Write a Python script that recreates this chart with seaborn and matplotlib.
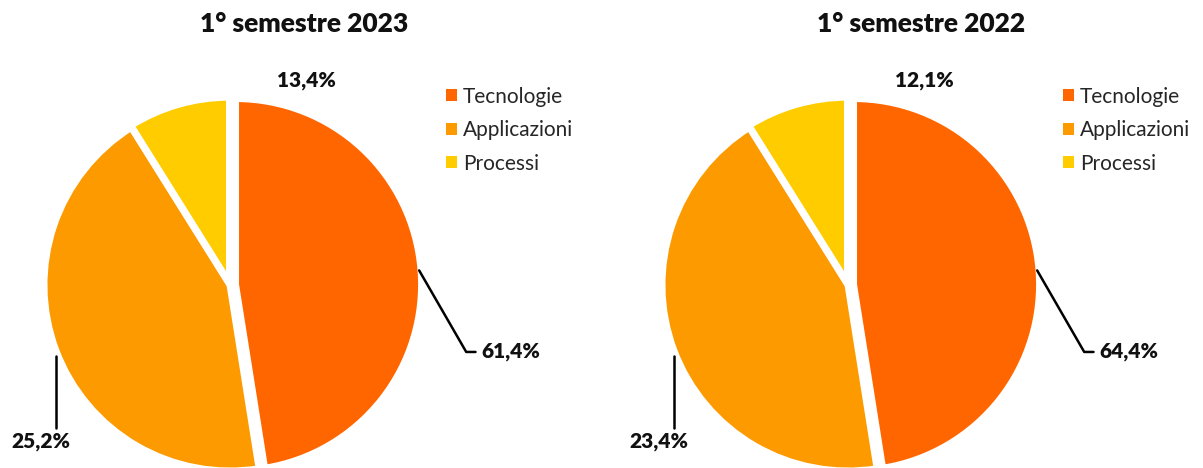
import numpy as np
import matplotlib.pyplot as plt
import seaborn as sns
from matplotlib.patches import Patch

sns.set_theme(style="white")
plt.rcParams['font.family'] = ['Lato', 'DejaVu Sans']

categories = ["Tecnologie", "Applicazioni", "Processi"]
colors = ["#FF6600", "#FC9A00", "#FFCC00"]

# slice shares as drawn in the picture, and printed labels
share_2023 = [47.5, 43.6, 8.9]
share_2022 = [47.5, 43.6, 8.9]
labels_2023 = ["61,4%", "25,2%", "13,4%"]
labels_2022 = ["64,4%", "23,4%", "12,1%"]
titles = ["1° semestre 2023", "1° semestre 2022"]

W, H = 1203, 468
fig = plt.figure(figsize=(W / 100, H / 100), dpi=100)

R = 186
centers = [(230, 285), (848, 285)]
legend_pos = [(438, 97), (1055, 97)]
title_x = [304, 921]


def draw(cx, cy, shares, labels, title, lx, ly, tx):
    ax = fig.add_axes([(cx - R) / W, (H - cy - R) / H, 2 * R / W, 2 * R / H])
    wedges, _ = ax.pie(shares, colors=colors, startangle=90, counterclock=False,
                       explode=[0.03, 0, 0.01],
                       wedgeprops=dict(edgecolor="white", linewidth=5))
    ax.set_xlim(-1, 1)
    ax.set_ylim(-1, 1)
    ax.set_aspect("equal")
    ax.axis("off")

    # leader lines from wedge mid angles
    w0 = wedges[0]
    a0 = np.deg2rad((w0.theta1 + w0.theta2) / 2)
    p0 = (np.cos(a0) + 0.02, np.sin(a0))
    ax.plot([p0[0], 1.27, 1.32], [p0[1], -0.36, -0.36], color="black", lw=1.8,
            clip_on=False)
    ax.text(1.35, -0.36, labels[0], ha="left", va="center", fontsize=15,
            fontweight="heavy", color="#111111", clip_on=False)

    w1 = wedges[1]
    a1 = np.deg2rad((w1.theta1 + w1.theta2) / 2)
    p1 = (np.cos(a1), np.sin(a1))
    ax.plot([p1[0], p1[0]], [p1[1] - 0.03, -0.77], color="black", lw=1.8,
            clip_on=False)
    ax.text(p1[0] - 0.08, -0.84, labels[1], ha="center", va="center", fontsize=15,
            fontweight="heavy", color="#111111", clip_on=False)

    ax.text(0.41, 1.10, labels[2], ha="center", va="center", fontsize=15,
            fontweight="heavy", color="#111111", clip_on=False)

    fig.text(tx / W, 1 - 24 / H, title, ha="center", va="center", fontsize=19,
             fontweight="heavy", color="#111111")

    handles = [Patch(facecolor=c, edgecolor="none", label=l)
               for c, l in zip(colors, categories)]
    fig.legend(handles=handles, loc="upper left", bbox_to_anchor=(lx / W, 1 - ly / H + 0.04),
               frameon=False, fontsize=15, handlelength=0.5, handleheight=0.5,
               handletextpad=0.3, labelspacing=0.65, borderaxespad=0)


draw(*centers[0], share_2023, labels_2023, titles[0], *legend_pos[0], title_x[0])
draw(*centers[1], share_2022, labels_2022, titles[1], *legend_pos[1], title_x[1])

fig.savefig("out.png", dpi=100)
